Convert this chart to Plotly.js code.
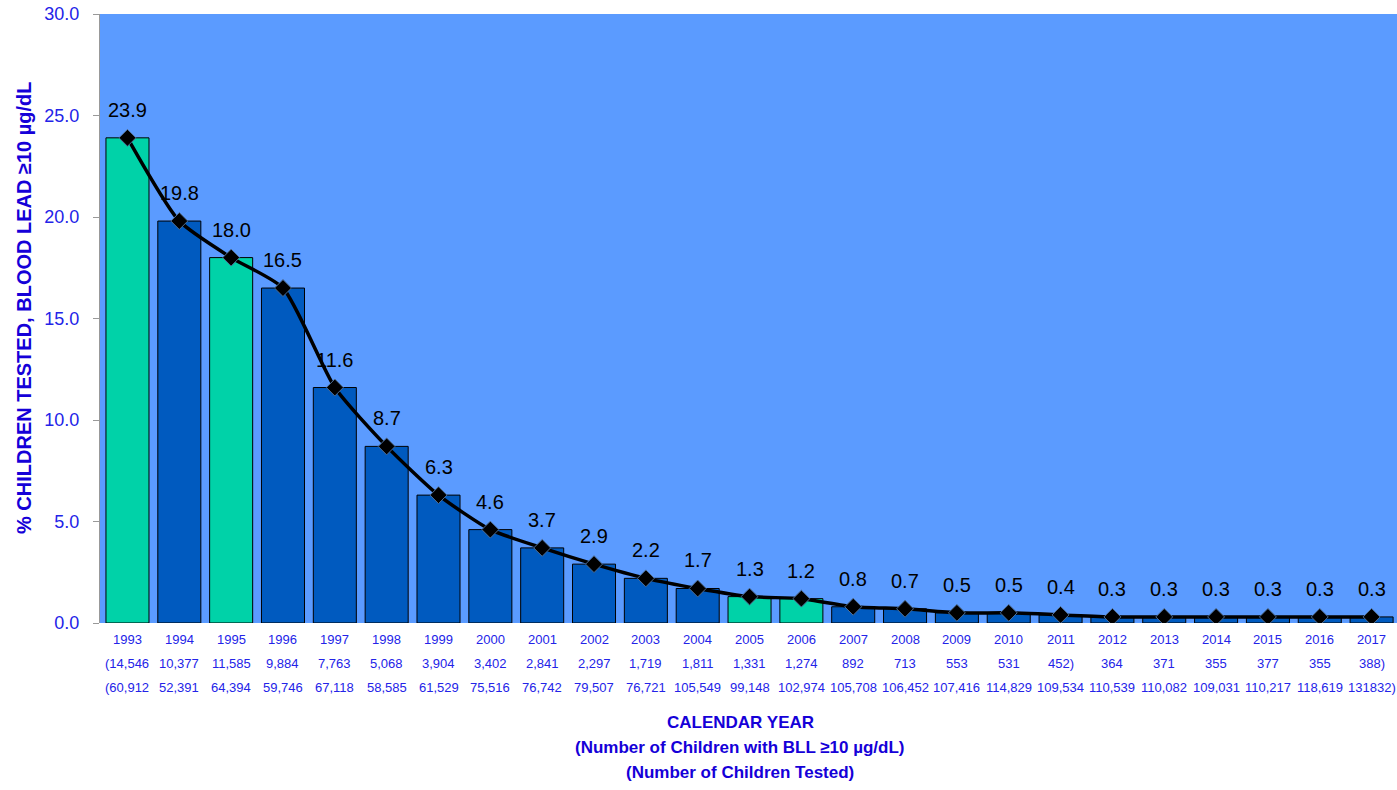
<!DOCTYPE html>
<html>
<head>
<meta charset="utf-8">
<script src="https://cdn.plot.ly/plotly-3.0.1.min.js"></script>
<style>html,body{margin:0;padding:0;background:#fff;}#chart{width:1397px;height:790px;}</style>
</head>
<body>
<div id="chart"></div>
<script>
const years = ['1993','1994','1995','1996','1997','1998','1999','2000','2001','2002','2003','2004','2005','2006','2007','2008','2009','2010','2011','2012','2013','2014','2015','2016','2017'];
const percentElevated = [23.9,19.8,18.0,16.5,11.6,8.7,6.3,4.6,3.7,2.9,2.2,1.7,1.3,1.2,0.8,0.7,0.5,0.5,0.4,0.3,0.3,0.3,0.3,0.3,0.3];
const elevatedLabels = ['(14,546','10,377','11,585','9,884','7,763','5,068','3,904','3,402','2,841','2,297','1,719','1,811','1,331','1,274','892','713','553','531','452)','364','371','355','377','355','388)'];
const testedLabels = ['(60,912','52,391','64,394','59,746','67,118','58,585','61,529','75,516','76,742','79,507','76,721','105,549','99,148','102,974','105,708','106,452','107,416','114,829','109,534','110,539','110,082','109,031','110,217','118,619','131832)'];
const highlightYears = ['1993','1995','2005','2006'];
const xTitleLines = ['CALENDAR YEAR','(Number of Children with BLL ≥10 µg/dL)','(Number of Children Tested)'];
const yTitle = '% CHILDREN TESTED, BLOOD LEAD ≥10 µg/dL';

const TEAL = '#00D2A8', BLUE = '#005ABF', TICKBLUE = '#2323E8', TITLEBLUE = '#1500D8';
const FONT = 'Arial, "Liberation Sans", sans-serif';

const idx = years.map((y, i) => i);
const barColors = years.map(y => highlightYears.includes(y) ? TEAL : BLUE);

const bars = {
  type: 'bar', x: idx, y: percentElevated,
  marker: {color: barColors, line: {color: '#000', width: 1}},
  hoverinfo: 'y', showlegend: false
};
const line = {
  type: 'scatter', mode: 'lines+markers', x: idx, y: percentElevated,
  line: {color: '#000', width: 3.5, shape: 'spline', smoothing: 0.6},
  marker: {symbol: 'diamond', size: 13, color: '#000', line: {color: '#4F6E94', width: 1}},
  showlegend: false
};

const plotH = 609;
const annotations = [];
years.forEach((y, i) => {
  annotations.push({x: i, y: percentElevated[i], xref: 'x', yref: 'y', text: percentElevated[i].toFixed(1),
    showarrow: false, yshift: 28, font: {family: FONT, size: 20, color: '#000'}});
  annotations.push({x: i, y: -16/plotH, xref: 'x', yref: 'paper', text: y, showarrow: false,
    yanchor: 'middle', font: {family: FONT, size: 13, color: TICKBLUE}});
  annotations.push({x: i, y: -40/plotH, xref: 'x', yref: 'paper', text: elevatedLabels[i], showarrow: false,
    yanchor: 'middle', font: {family: FONT, size: 13, color: TICKBLUE}});
  annotations.push({x: i, y: -64/plotH, xref: 'x', yref: 'paper', text: testedLabels[i], showarrow: false,
    yanchor: 'middle', font: {family: FONT, size: 13, color: TICKBLUE}});
});
xTitleLines.forEach((t, k) => {
  annotations.push({x: (740-100)/1297, y: -(99 + 25*k)/plotH, xref: 'paper', yref: 'paper', text: '<b>' + t + '</b>',
    showarrow: false, yanchor: 'middle', xanchor: 'center', font: {family: FONT, size: 17, color: TITLEBLUE}});
});
annotations.push({x: (24-100)/1297, y: (623-308)/plotH, xref: 'paper', yref: 'paper', text: '<b>' + yTitle + '</b>',
  textangle: -90, showarrow: false, xanchor: 'center', yanchor: 'middle',
  font: {family: FONT, size: 20, color: TITLEBLUE}});

const layout = {
  width: 1397, height: 790,
  margin: {l: 100, r: 0, t: 14, b: 167},
  paper_bgcolor: '#fff', plot_bgcolor: '#5B9BFF',
  bargap: 0.17,
  font: {family: FONT},
  xaxis: {type: 'linear', range: [-0.53, years.length - 0.51], showticklabels: false, ticks: '', showgrid: false, zeroline: false, showline: false, fixedrange: true},
  yaxis: {range: [0, 30], dtick: 5, tickformat: '.1f', ticks: 'outside', ticklen: 6, tickcolor: '#999',
    ticklabelstandoff: 10,
    showline: true, linecolor: '#999', linewidth: 1, showgrid: false, zeroline: false,
    tickfont: {family: FONT, size: 18, color: TICKBLUE}},
  annotations: annotations
};

Plotly.newPlot('chart', [bars, line], layout, {displayModeBar: false, staticPlot: true});
</script>
</body>
</html>
